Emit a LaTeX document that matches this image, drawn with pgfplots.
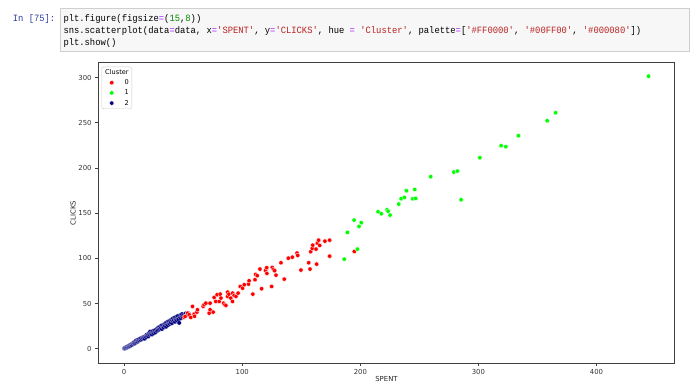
\documentclass[border=0pt]{standalone}
\usepackage{pgfplots}
\pgfplotsset{compat=1.18}
\usepackage{fontspec}
\setmainfont{DejaVu Sans}
\newfontfamily\codefont{Liberation Mono}[FakeStretch=0.92, Ligatures=TeXOff]
\definecolor{opc}{HTML}{AA22FF}
\definecolor{numc}{HTML}{008800}
\definecolor{strc}{HTML}{BA2121}
\definecolor{promptc}{HTML}{303F9F}
\definecolor{boxbg}{HTML}{F7F7F7}
\definecolor{boxbd}{HTML}{CFCFCF}
\definecolor{cl0}{HTML}{FF0000}
\definecolor{cl1}{HTML}{00FF00}
\definecolor{cl2}{HTML}{000080}
\newcommand\OP[1]{\textcolor{opc}{#1}}
\newcommand\NU[1]{\textcolor{numc}{#1}}
\newcommand\ST[1]{\textcolor{strc}{#1}}
\pgfplotsset{lgd/.style={legend image code/.code={\path[draw=none, fill=none, sharp corners] (-7pt,-2pt) rectangle (7pt,2pt);\path[##1, draw=none, sharp corners] plot coordinates {(0pt,0pt)};}}}
\begin{document}
\begin{tikzpicture}[x=1pt,y=1pt]
\path[use as bounding box, fill=white] (0,0) rectangle (691,383);
\draw[fill=boxbg, draw=boxbd, line width=0.8pt] (60,332) rectangle (689,375);
\begin{scope}[every node/.style={inner sep=0pt, font=\codefont\fontsize{9.6}{12}\selectfont}]
\node[anchor=base east, text=promptc] at (55.5,361.5) {In [75]:};
\node[anchor=base west] at (63.3,361.5) {plt.figure(figsize\OP{=}(\NU{15},\NU{8}))};
\node[anchor=base west] at (63.3,349.5) {sns.scatterplot(data\OP{=}data, x\OP{=}\ST{'SPENT'}, y\OP{=}\ST{'CLICKS'}, hue \OP{=} \ST{'Cluster'}, palette\OP{=}[\ST{'\#FF0000'}, \ST{'\#00FF00'}, \ST{'\#000080'}])};
\node[anchor=base west] at (63.3,337.5) {plt.show()};
\end{scope}
\begin{axis}[
  at={(83.1,22.0)}, anchor=south west,
  scale only axis, width=576.7pt, height=300.4pt,
  xmin=-22, xmax=466.3, ymin=-15.9, ymax=316.4,
  xtick={0,100,200,300,400}, ytick={0,50,100,150,200,250,300},
  xtick pos=left, ytick pos=left,
  tick align=outside, major tick length=3pt,
  tick style={black!75, line width=0.6pt},
  axis line style={black!75, line width=0.7pt},
  /pgf/number format/assume math mode=true,
  tick label style={font=\fontsize{6.9}{8}\selectfont, text=black!80},
  xlabel={SPENT}, ylabel={CLICKS},
  every axis x label/.style={at={(axis description cs:0.5,-0.052)}, anchor=center, font=\fontsize{6.9}{8}\selectfont, text=black!85},
  every axis y label/.style={at={(axis description cs:-0.0434,0.5)}, rotate=90, anchor=center, font=\fontsize{6.9}{8}\selectfont, text=black!85},
  legend cell align=left,
  legend style={at={(rel axis cs:0.0059,0.9867)}, anchor=north west,
    draw=black!20, rounded corners=2pt, fill=white,
    font=\fontsize{6.6}{7.5}\selectfont,
    inner xsep=3pt, inner ysep=2.2pt, row sep=3.4pt,
    nodes={inner sep=0pt, text height=5.3pt, text depth=1.5pt},
    /tikz/every odd column/.append style={column sep=6pt}},
]
\addlegendimage{empty legend}
\addlegendentry{\makebox[0pt][l]{\hspace{-20pt}Cluster}}
\addlegendimage{only marks, mark=*, mark size=2.2pt, mark options={fill=cl0, draw=white, line width=0.3pt}, lgd}
\addlegendentry{0}
\addlegendimage{only marks, mark=*, mark size=2.2pt, mark options={fill=cl1, draw=white, line width=0.3pt}, lgd}
\addlegendentry{1}
\addlegendimage{only marks, mark=*, mark size=2.2pt, mark options={fill=cl2, draw=white, line width=0.3pt}, lgd}
\addlegendentry{2}
% cluster 2
\addplot[forget plot, only marks, mark=*, mark size=2.2pt, mark options={fill=cl2, draw=white, draw opacity=0.7, line width=0.22pt}] table {
x y
0.2 0.3
0.5 0.8
1.0 0.6
1.3 1.2
1.8 1.5
2.2 1.9
2.5 1.4
3.0 2.4
3.4 2.2
3.8 3.1
4.1 2.6
4.6 3.5
5.0 3.0
5.3 4.2
5.8 3.9
6.2 4.8
6.5 4.1
7.0 5.6
7.3 5.0
7.9 5.9
8.2 6.8
8.6 5.7
9.0 7.1
9.5 6.4
10.0 8.9
10.3 7.2
10.8 8.0
11.2 9.6
11.5 7.8
12.0 9.0
12.4 10.3
13.0 9.4
13.5 10.8
14.0 9.9
14.3 11.6
15.0 10.6
15.4 12.1
16.0 11.5
16.5 13.0
17.0 12.2
17.4 11.1
18.0 13.6
18.5 12.8
19.0 15.4
19.3 14.2
20.0 15.0
20.4 13.6
21.0 16.8
21.3 15.5
22.0 18.9
22.4 16.3
23.0 17.5
23.5 15.8
24.0 18.2
24.5 19.6
25.0 17.0
25.6 19.0
26.0 20.4
26.5 18.1
27.0 21.0
27.6 19.5
28.0 22.3
28.5 20.2
29.0 23.4
29.5 21.1
30.0 24.0
30.4 22.0
31.0 23.3
31.5 25.5
32.0 21.8
32.5 24.6
33.0 26.2
33.5 23.5
34.0 27.0
34.4 25.1
35.0 28.2
35.5 24.3
36.0 27.6
36.4 29.4
37.0 26.1
37.5 28.8
38.0 30.5
38.5 27.4
39.0 31.2
39.4 29.0
40.0 32.0
40.5 28.3
41.0 33.1
41.5 30.6
42.0 31.9
42.5 34.2
43.0 29.8
43.5 33.0
44.0 35.1
44.5 31.5
45.0 34.0
45.5 36.2
46.0 32.4
46.6 28.6
47.0 35.3
47.5 37.0
48.0 33.6
48.5 36.4
49.0 38.3
49.5 34.8
50.0 37.2
51.0 36.0
52.0 38.9
53.0 37.4
54.5 39.0
};
% cluster 0
\addplot[forget plot, only marks, mark=*, mark size=2.2pt, mark options={fill=cl0, draw=white, line width=0.3pt}] table {
x y
50.8 34.6
51.6 35.7
53.7 39.4
55.1 37.6
56.5 34.6
57.9 46.8
59.3 38.3
59.6 36.0
61.6 40.5
62.1 43.1
66.9 46.8
67.7 48.7
69.2 50.4
72.0 39.4
72.8 50.4
72.8 43.1
75.4 40.5
76.2 56.7
77.6 52.3
78.7 59.7
80.5 52.3
81.3 60.4
82.0 56.0
84.2 50.4
85.3 48.7
86.2 47.9
87.6 62.6
87.6 57.9
88.7 60.4
90.3 56.0
91.8 52.3
91.9 61.5
93.1 59.0
94.7 57.9
96.5 61.5
98.3 68.9
100.3 67.0
101.7 70.8
105.3 71.5
105.8 75.2
109.0 60.4
110.8 76.3
111.4 82.2
112.7 80.8
115.0 88.1
116.4 66.4
119.8 86.6
120.7 89.6
120.9 83.3
124.9 68.9
125.4 89.9
126.6 87.7
127.5 86.3
128.6 81.4
132.8 95.1
135.6 77.0
139.0 100.2
142.4 101.3
146.4 105.8
147.0 103.2
149.7 87.0
156.3 95.1
157.4 88.1
158.0 107.3
159.3 111.0
159.7 114.6
162.5 110.2
163.0 93.6
163.6 116.8
164.7 120.1
165.6 114.3
170.0 119.0
174.0 120.1
174.0 102.4
194.9 107.6
};
% cluster 1
\addplot[forget plot, only marks, mark=*, mark size=2.2pt, mark options={fill=cl1, draw=white, line width=0.3pt}] table {
x y
186.4 99.1
189.0 128.7
194.7 142.3
197.5 110.2
198.9 135.3
200.8 139.4
215.0 151.5
217.8 149.3
222.6 153.8
223.5 152.2
225.2 147.8
232.5 160.0
234.5 165.9
237.3 167.4
239.0 174.8
244.4 165.9
246.1 176.2
246.9 166.3
259.6 190.3
279.2 195.4
282.2 196.5
285.3 164.8
301.2 211.3
319.2 224.6
323.2 223.5
333.9 235.6
358.2 252.2
365.3 261.0
444.0 301.5
};
\end{axis}
\end{tikzpicture}
\end{document}
